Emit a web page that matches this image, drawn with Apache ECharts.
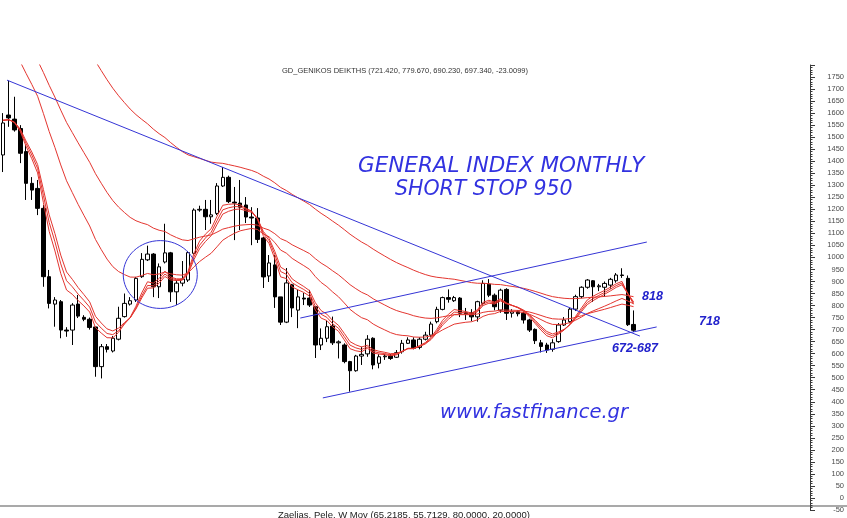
<!DOCTYPE html>
<html>
<head>
<meta charset="utf-8">
<script src="https://cdn.jsdelivr.net/npm/echarts@6/dist/echarts.min.js"></script>
<style>
html,body{margin:0;padding:0;background:#fff;}
#chart{width:847px;height:518px;}
</style>
</head>
<body>
<div id="chart"></div>
<script>
// ---- data (monthly candles, index 0 = first visible month) ----
const opens  = [1426,1592,1575,1536,1440,1308,1287,1204,920,806,816,698,698,806,751,743,711,546,629,611,
                660,754,806,823,920,990,1014,878,981,1019,857,893,906,1017,1197,1200,1169,1183,1297,1333,
                1230,1226,1218,1168,1164,1081,923,969,836,731,886,781,831,831,795,636,664,715,645,636,
                567,529,590,599,664,560,587,590,585,608,643,657,626,660,677,733,784,833,820,831,
                770,770,753,809,889,843,781,867,768,774,768,740,701,645,636,618,650,719,733,785,
                837,876,903,878,876,885,903,927,913,721.42];
const closes = [1559,1580,1530,1433,1308,1280,1204,920,809,823,698,694,802,756,743,709,546,629,618,664,
                747,809,820,913,992,1014,878,961,1019,857,893,910,1020,1197,1200,1169,1177,1297,1333,1232,
                1226,1209,1168,1164,1075,919,977,836,731,894,790,836,827,802,636,664,712,645,649,567,
                529,590,597,660,553,587,590,580,604,643,657,622,660,677,723,784,833,826,833,768,
                765,753,816,892,843,795,864,768,774,766,740,698,654,630,615,645,719,740,785,837,
                876,906,878,882,892,909,927,925,720.35,697.34];
const lows   = [1355,1543,1523,1392,1239,1239,1176,878,788,712,664,670,636,748,735,700,504,497,605,605,
                655,750,800,815,915,985,835,831,975,815,802,880,898,1010,1190,1114,1140,1176,1293,1226,
                1072,1114,1143,1051,1060,873,898,790,719,727,752,706,802,794,582,615,648,636,580,560,
                442,525,553,587,535,539,574,574,582,600,640,618,618,655,670,726,780,812,815,752,
                740,735,733,800,835,780,770,740,750,755,725,690,640,605,603,608,645,715,727,777,
                830,870,815,860,837,870,895,915,715,690.23];
const highs  = [1600,1735,1668,1550,1467,1334,1322,1218,948,835,823,710,810,844,760,750,711,640,640,673,
                795,850,835,919,1018,1049,1018,975,1140,1023,905,985,1027,1204,1215,1239,1239,1309,1376,1340,
                1293,1322,1251,1209,1205,1085,1010,1010,836,956,890,865,852,865,795,705,737,754,655,643,
                570,595,629,677,668,598,598,598,615,657,668,668,668,691,733,795,837,867,840,835,
                790,785,820,905,910,850,870,872,785,780,775,745,705,657,645,660,727,752,790,845,
                880,910,906,890,900,915,935,955,925,779.67];

// category slots (visible months plus empty space to the right)
const slotCount = 140;

// moving averages (exponential) of the closes; start values read where each line enters the chart
const maPeriods = [6, 7, 8, 20, 35, 60];
const maStarts  = [1570, 1570, 1570, 1920, 2000, 2430];

// right axis
const yMin = -50, yMax = 1800, yStep = 50;

// hand-drawn annotations, in (month index, index value)
const downTrend  = [[0.71, 1737], [110.1, 673]];
const channelTop = [[51.4, 748], [111.3, 1064]];
const channelBot = [[55.3, 416], [113.0, 711]];
const circleAt   = [27.2, 929];
const circleSize = [6.4, 141];   // half-width in months, half-height in points

const titleText  = 'GD_GENIKOS DEIKTHS (721.420, 779.670, 690.230, 697.340, -23.0099)';
const footerText = 'Zaelias, Pele, W Mov (65.2185, 55.7129, 80.0000, 20.0000)';

// ---- build ----
const cats = Array.from({length: slotCount}, (_, i) => String(i));
const candles = opens.map((o, i) => [o, closes[i], lows[i], highs[i]]);

function ema(period, start) {
  const a = 2 / (period + 1);
  let e = start;
  return closes.map((c, i) => {
    if (i > 0) e = e + a * (c - e);
    return +e.toFixed(2);
  });
}

const red = '#e3352f';
const blue = '#3535d6';

const maSeries = maPeriods.map((p, k) => ({
  type: 'line',
  name: 'EMA' + p,
  xAxisIndex: 0, yAxisIndex: 0,
  data: ema(p, maStarts[k]),
  showSymbol: false,
  symbol: 'none',
  smooth: false,
  clip: true,
  lineStyle: {color: red, width: 1},
  z: 3,
  silent: true
}));

function trend(pts) {
  return {
    type: 'line', xAxisIndex: 1, yAxisIndex: 0,
    data: pts, symbol: 'none', clip: false,
    lineStyle: {color: blue, width: 1}, z: 4, silent: true
  };
}

const chart = echarts.init(document.getElementById('chart'), null, {renderer: 'canvas'});

const option = {
  animation: false,
  backgroundColor: '#ffffff',
  grid: {left: 0, right: 37, top: 65, bottom: 8, containLabel: false},
  xAxis: [
    {type: 'category', data: cats, boundaryGap: true, show: false},
    {type: 'value', min: -0.5, max: slotCount - 0.5, show: false}
  ],
  yAxis: [{
    type: 'value', position: 'right', min: yMin, max: yMax, interval: yStep,
    axisLine: {show: true, onZero: false, lineStyle: {color: '#3a3a3a', width: 1}},
    axisTick: {show: true, length: 5, lineStyle: {color: '#3a3a3a'}},
    minorTick: {show: true, splitNumber: 5, length: 2.5, lineStyle: {color: '#3a3a3a'}},
    splitLine: {show: false},
    minorSplitLine: {show: false},
    axisLabel: {
      fontSize: 7.5, color: '#4a4a4a', fontFamily: 'Liberation Sans, Arial, sans-serif',
      align: 'right', margin: 34,
      formatter: v => (v === yMax ? '' : String(v))
    }
  }],
  series: [
    {
      type: 'candlestick',
      xAxisIndex: 0, yAxisIndex: 0,
      data: candles,
      barWidth: 4,
      itemStyle: {color: '#ffffff', color0: '#000000', borderColor: '#000000', borderColor0: '#000000', borderWidth: 1},
      z: 2,
      silent: true
    },
    ...maSeries,
    trend(downTrend),
    trend(channelTop),
    trend(channelBot)
  ]
};
chart.setOption(option);

// annotation graphics (circle placed through the axes)
const trendSeriesIndex = 1 + maSeries.length;
const c0 = chart.convertToPixel({seriesIndex: trendSeriesIndex}, circleAt);
const c1 = chart.convertToPixel({seriesIndex: trendSeriesIndex}, [circleAt[0] + circleSize[0], circleAt[1] + circleSize[1]]);
const rx = Math.abs(c1[0] - c0[0]);
const ry = Math.abs(c1[1] - c0[1]);

const hand = "'DejaVu Sans', sans-serif";
const boldIt = {fontFamily: 'Liberation Sans, Arial, sans-serif', fontWeight: 'bold', fontStyle: 'italic', fontSize: 12.5, fill: '#2222cc'};

chart.setOption({
  graphic: [
    {type: 'ellipse', shape: {cx: c0[0], cy: c0[1], rx: rx, ry: ry}, style: {fill: 'none', stroke: blue, lineWidth: 1}, z: 10, silent: true},
    {type: 'text', x: 405, y: 71, style: {text: titleText, fontSize: 7.5, fontFamily: 'Liberation Sans, Arial, sans-serif', fill: '#333', align: 'center', verticalAlign: 'middle'}},
    {type: 'text', x: 358, y: 166, style: {text: 'GENERAL INDEX MONTHLY', fontSize: 21.5, fontStyle: 'italic', fontFamily: hand, fontWeight: 200, fill: '#3232e0', verticalAlign: 'middle'}},
    {type: 'text', x: 395, y: 190, style: {text: 'SHORT STOP 950', fontSize: 20.5, fontStyle: 'italic', fontFamily: hand, fontWeight: 200, fill: '#3232e0', verticalAlign: 'middle'}},
    {type: 'text', x: 440, y: 413, style: {text: 'www.fastfinance.gr', fontSize: 19.5, fontStyle: 'italic', fontFamily: hand, fontWeight: 200, fill: '#3232e0', verticalAlign: 'middle'}},
    {type: 'text', x: 642, y: 297, style: Object.assign({text: '818', verticalAlign: 'middle'}, boldIt)},
    {type: 'text', x: 699, y: 322, style: Object.assign({text: '718', verticalAlign: 'middle'}, boldIt)},
    {type: 'text', x: 612, y: 349, style: Object.assign({text: '672-687', verticalAlign: 'middle'}, boldIt)},
    {type: 'line', shape: {x1: 0, y1: 506, x2: 847, y2: 506}, style: {stroke: '#8c8c8c', lineWidth: 1.5}},
    {type: 'text', x: 278, y: 515, style: {text: footerText, fontSize: 9.5, fontFamily: 'Liberation Sans, Arial, sans-serif', fill: '#222', verticalAlign: 'middle'}}
  ]
});
</script>
</body>
</html>
